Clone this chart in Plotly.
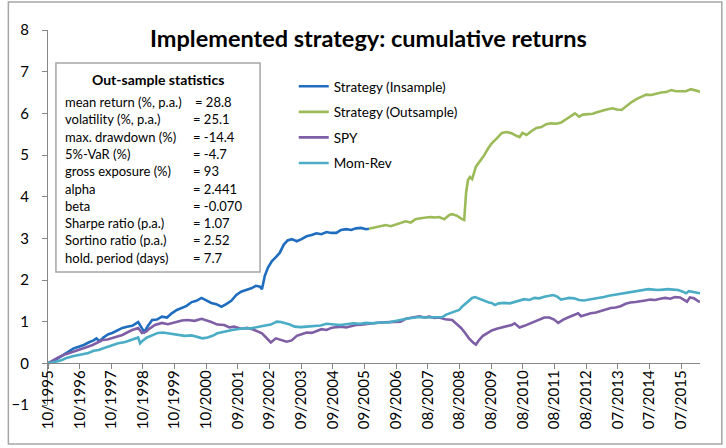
import plotly.graph_objects as go

# ---------------- data ----------------
tick_labels = ["10/1995", "10/1996", "10/1997", "10/1998", "10/1999", "10/2000",
               "09/2001", "09/2002", "09/2003", "09/2004", "09/2005", "09/2006",
               "08/2007", "08/2008", "08/2009", "08/2010", "08/2011", "08/2012",
               "07/2013", "07/2014", "07/2015"]
tick_index = list(range(len(tick_labels)))  # years since 10/1995

ins_t = [0.0, 0.16, 0.31, 0.44, 0.56, 0.69, 0.81, 0.97, 1.13, 1.28, 1.44, 1.53, 1.63, 1.75, 1.91,
         2.03, 2.19, 2.35, 2.5, 2.66, 2.85, 2.94, 3.04, 3.16, 3.29, 3.44, 3.6, 3.76, 3.91, 4.07,
         4.23, 4.38, 4.54, 4.69, 4.85, 5.01, 5.16, 5.32, 5.48, 5.63, 5.79, 5.95, 6.1, 6.26, 6.42,
         6.57, 6.7, 6.76, 6.85, 6.95, 7.07, 7.2, 7.32, 7.45, 7.57, 7.7, 7.86, 8.01, 8.17, 8.33,
         8.48, 8.64, 8.8, 8.95, 9.11, 9.26, 9.42, 9.58, 9.73, 9.89, 10.05, 10.14]
ins_v = [0.0, 0.05, 0.12, 0.18, 0.25, 0.3, 0.36, 0.4, 0.44, 0.5, 0.55, 0.6, 0.53, 0.62, 0.7,
         0.73, 0.8, 0.85, 0.88, 0.9, 0.99, 0.88, 0.75, 0.9, 1.04, 1.05, 1.12, 1.1, 1.2, 1.28,
         1.33, 1.38, 1.47, 1.5, 1.57, 1.5, 1.45, 1.42, 1.36, 1.42, 1.5, 1.64, 1.72, 1.76, 1.8,
         1.86, 1.84, 1.78, 2.1, 2.3, 2.45, 2.55, 2.65, 2.85, 2.95, 2.98, 2.93, 2.98, 3.05, 3.08,
         3.12, 3.1, 3.15, 3.13, 3.13, 3.2, 3.22, 3.2, 3.24, 3.25, 3.22, 3.23]

out_t = [10.14, 10.33, 10.49, 10.67, 10.83, 10.99, 11.11, 11.3, 11.46, 11.61, 11.77, 11.92, 12.08,
         12.24, 12.36, 12.52, 12.68, 12.77, 12.93, 13.08, 13.15, 13.21, 13.27, 13.33, 13.4, 13.52,
         13.65, 13.77, 13.9, 14.02, 14.18, 14.34, 14.49, 14.65, 14.8, 14.9, 14.99, 15.12, 15.27,
         15.43, 15.59, 15.74, 15.9, 16.06, 16.21, 16.37, 16.53, 16.65, 16.78, 16.9, 17.06, 17.21,
         17.37, 17.53, 17.68, 17.84, 17.97, 18.12, 18.28, 18.44, 18.59, 18.75, 18.9, 19.06, 19.22,
         19.37, 19.53, 19.69, 19.84, 20.0, 20.16, 20.31, 20.47, 20.6]
out_v = [3.23, 3.26, 3.3, 3.32, 3.29, 3.33, 3.36, 3.41, 3.38, 3.46, 3.48, 3.49, 3.51,
         3.5, 3.51, 3.46, 3.56, 3.58, 3.54, 3.46, 3.44, 4.1, 4.4, 4.47, 4.42, 4.72,
         4.85, 4.98, 5.15, 5.28, 5.4, 5.53, 5.55, 5.52, 5.46, 5.43, 5.53, 5.48, 5.57,
         5.65, 5.67, 5.74, 5.76, 5.75, 5.78, 5.86, 5.95, 6.0, 5.92, 5.97, 5.98, 5.99,
         6.03, 6.07, 6.1, 6.12, 6.09, 6.08, 6.18, 6.27, 6.34, 6.4, 6.45, 6.44, 6.48,
         6.5, 6.51, 6.56, 6.53, 6.53, 6.53, 6.58, 6.55, 6.52]

spy_t = [0.0, 0.16, 0.34, 0.56, 0.78, 0.97, 1.19, 1.41, 1.56, 1.72, 1.88, 2.03, 2.19, 2.35, 2.5,
         2.66, 2.85, 2.97, 3.1, 3.22, 3.38, 3.6, 3.79, 4.01, 4.23, 4.41, 4.63, 4.85, 5.04, 5.16,
         5.35, 5.57, 5.73, 5.88, 6.1, 6.29, 6.45, 6.6, 6.76, 6.89, 7.04, 7.2, 7.36, 7.54, 7.7,
         7.86, 8.01, 8.17, 8.33, 8.48, 8.64, 8.8, 8.95, 9.11, 9.26, 9.42, 9.58, 9.73, 9.89, 10.05,
         10.27, 10.49, 10.74, 10.99, 11.14, 11.3, 11.52, 11.74, 11.89, 12.05, 12.21, 12.36, 12.55,
         12.77, 12.93, 13.05, 13.18, 13.3, 13.43, 13.52, 13.62, 13.74, 13.87, 14.02, 14.18, 14.34,
         14.49, 14.65, 14.74, 14.9, 15.05, 15.21, 15.37, 15.52, 15.68, 15.84, 15.99, 16.12, 16.28,
         16.43, 16.59, 16.75, 16.84, 17.0, 17.15, 17.31, 17.46, 17.62, 17.78, 17.93, 18.09, 18.25,
         18.4, 18.56, 18.72, 18.87, 19.03, 19.19, 19.34, 19.5, 19.66, 19.81, 19.97, 20.09, 20.19,
         20.28, 20.41, 20.53, 20.6]
spy_v = [0.0, 0.08, 0.15, 0.22, 0.27, 0.32, 0.38, 0.44, 0.5, 0.56, 0.57, 0.6, 0.64, 0.68, 0.74,
         0.8, 0.85, 0.73, 0.76, 0.84, 0.92, 0.97, 0.94, 0.99, 1.03, 1.04, 1.02, 1.07, 1.03, 0.99,
         0.93, 0.92, 0.86, 0.88, 0.83, 0.85, 0.82, 0.77, 0.72, 0.62, 0.5, 0.6, 0.57, 0.52, 0.55,
         0.66, 0.7, 0.74, 0.73, 0.77, 0.82, 0.8, 0.85, 0.87, 0.88, 0.86, 0.9, 0.92, 0.93, 0.95,
         0.96, 0.98, 0.99, 1.01, 1.0, 1.07, 1.1, 1.13, 1.1, 1.12, 1.09, 1.1, 1.06,
         1.04, 0.93, 0.85, 0.73, 0.6, 0.5, 0.45, 0.56, 0.66, 0.72, 0.79, 0.83, 0.86,
         0.88, 0.92, 0.96, 0.86, 0.9, 0.95, 1.0, 1.06, 1.1, 1.1, 1.05, 0.97, 1.05,
         1.1, 1.15, 1.2, 1.13, 1.17, 1.2, 1.22, 1.25, 1.29, 1.33, 1.34, 1.37, 1.43,
         1.46, 1.47, 1.5, 1.51, 1.53, 1.52, 1.55, 1.57, 1.55, 1.59, 1.58, 1.52, 1.48,
         1.58, 1.56, 1.5, 1.47]

mr_t = [0.0, 0.16, 0.31, 0.44, 0.56, 0.78, 0.97, 1.13, 1.28, 1.44, 1.6, 1.82, 2.03, 2.22, 2.44,
        2.6, 2.75, 2.85, 2.91, 3.0, 3.13, 3.29, 3.47, 3.63, 3.79, 3.94, 4.1, 4.32, 4.54, 4.73,
        4.88, 5.04, 5.2, 5.35, 5.51, 5.67, 5.82, 5.98, 6.2, 6.42, 6.6, 6.82, 7.04, 7.23, 7.36,
        7.48, 7.64, 7.79, 7.98, 8.17, 8.39, 8.61, 8.8, 9.01, 9.23, 9.42, 9.64, 9.86, 10.05, 10.27,
        10.49, 10.74, 10.99, 11.21, 11.42, 11.58, 11.74, 11.92, 12.14, 12.33, 12.46, 12.58, 12.68,
        12.83, 12.99, 13.08, 13.18, 13.3, 13.4, 13.49, 13.62, 13.77, 13.93, 14.02, 14.12, 14.24,
        14.4, 14.59, 14.74, 14.9, 15.05, 15.21, 15.37, 15.52, 15.68, 15.84, 15.96, 16.09, 16.21,
        16.34, 16.46, 16.62, 16.78, 16.93, 17.09, 17.25, 17.4, 17.56, 17.72, 17.87, 18.03, 18.18,
        18.34, 18.5, 18.65, 18.81, 18.97, 19.12, 19.28, 19.44, 19.59, 19.75, 19.91, 20.06, 20.16,
        20.25, 20.38, 20.5, 20.6]
mr_v = [0.0, 0.02, 0.05, 0.08, 0.12, 0.17, 0.2, 0.23, 0.25, 0.3, 0.32, 0.38, 0.44, 0.48, 0.51,
        0.55, 0.6, 0.62, 0.48, 0.55, 0.62, 0.68, 0.73, 0.74, 0.72, 0.71, 0.68, 0.66, 0.67, 0.63,
        0.6, 0.62, 0.66, 0.72, 0.75, 0.79, 0.8, 0.82, 0.84, 0.84, 0.86, 0.9, 0.93, 1.0, 0.99,
        0.97, 0.93, 0.88, 0.87, 0.88, 0.9, 0.91, 0.95, 0.93, 0.92, 0.94, 0.96, 0.95, 0.97, 0.96,
        0.98, 0.98, 1.01, 1.05, 1.08, 1.1, 1.11, 1.1, 1.11, 1.12, 1.11, 1.17, 1.2,
        1.24, 1.28, 1.36, 1.42, 1.51, 1.57, 1.59, 1.55, 1.5, 1.46, 1.45, 1.4, 1.44,
        1.45, 1.44, 1.47, 1.5, 1.54, 1.52, 1.57, 1.56, 1.6, 1.62, 1.64, 1.6, 1.53,
        1.55, 1.57, 1.56, 1.52, 1.51, 1.53, 1.54, 1.57, 1.59, 1.62, 1.64, 1.65, 1.67,
        1.7, 1.73, 1.75, 1.76, 1.78, 1.77, 1.76, 1.77, 1.78, 1.77, 1.76, 1.72, 1.68,
        1.73, 1.71, 1.7, 1.68]

stat_names = ["mean return (%, p.a.)", "volatility (%, p.a.)", "max. drawdown (%)", "5%-VaR (%)",
              "gross exposure (%)", "alpha", "beta", "Sharpe ratio (p.a.)", "Sortino ratio (p.a.)",
              "hold. period (days)"]
stat_values = ["= 28.8", "= 25.1", "= -14.4", "= -4.7", "= 93", "= 2.441", "= -0.070",
               "= 1.07", "= 2.52", "= 7.7"]

# ---------------- layout constants (pixels) ----------------
W, H = 726, 448
ML, MR, MT, MB = 42, 26, 30, 43
PW, PH = W - ML - MR, H - MT - MB
FONT = "Lato, 'Open Sans', sans-serif"


def px_x(p):
    return (p - ML) / PW


def px_y(p):
    return (H - MB - p) / PH


fig = go.Figure()
series = [
    ("Strategy (Insample)", ins_t, ins_v, "#1F6DBE"),
    ("Strategy (Outsample)", out_t, out_v, "#9BBB59"),
    ("SPY", spy_t, spy_v, "#7E5FA6"),
    ("Mom-Rev", mr_t, mr_v, "#4BACC6"),
]
for name, t, v, col in series:
    fig.add_trace(go.Scatter(x=t, y=v, mode="lines", name=name, legendgroup=name,
                             line=dict(color=col, width=2.6)))

shapes = [
    # outer chart frame
    dict(type="rect", xref="paper", yref="paper", x0=px_x(2), x1=px_x(722), y0=px_y(444), y1=px_y(2),
         line=dict(color="#A6A6A6", width=1.5), fillcolor="rgba(0,0,0,0)", layer="below"),
    # statistics box
    dict(type="rect", xref="paper", yref="paper", x0=px_x(50), x1=px_x(256), y0=px_y(272), y1=px_y(63),
         line=dict(color="#A6A6A6", width=1.5), fillcolor="white", layer="above"),
]

STAT_SIZE = 13
annotations = [
    dict(text="<b>Implemented strategy: cumulative returns</b>", xref="paper", yref="paper",
         x=px_x(365), y=px_y(38), xanchor="center", yanchor="middle", showarrow=False,
         font=dict(family=FONT, size=23.5, color="#000000")),
    dict(text="<b>Out-sample statistics</b>", xref="paper", yref="paper",
         x=px_x(153), y=px_y(79), xanchor="center", yanchor="middle", showarrow=False,
         font=dict(family=FONT, size=14, color="#000000")),
]
for i, (n, v) in enumerate(zip(stat_names, stat_values)):
    yy = px_y(102 + 17.3 * i)
    annotations.append(dict(text=n, xref="paper", yref="paper", x=px_x(57), y=yy,
                            xanchor="left", yanchor="middle", showarrow=False,
                            font=dict(family=FONT, size=STAT_SIZE, color="#000000")))
    annotations.append(dict(text=v, xref="paper", yref="paper", x=px_x(188 if i == 0 else 186), y=yy,
                            xanchor="left", yanchor="middle", showarrow=False,
                            font=dict(family=FONT, size=STAT_SIZE, color="#000000")))

fig.update_layout(
    width=W, height=H,
    margin=dict(l=ML, r=MR, t=MT, b=MB),
    paper_bgcolor="white", plot_bgcolor="white",
    font=dict(family=FONT, size=14, color="#000000"),
    showlegend=True,
    legend=dict(x=px_x(290), y=px_y(71), xanchor="left", yanchor="top",
                bgcolor="rgba(0,0,0,0)", borderwidth=0, tracegroupgap=5,
                font=dict(family=FONT, size=13.5, color="#000000")),
    shapes=shapes,
    annotations=annotations,
    xaxis=dict(range=[0, 20.6], tickmode="array", tickvals=tick_index, ticktext=tick_labels,
               tickangle=-90, ticks="outside", ticklen=5, tickcolor="#868686",
               showline=True, linecolor="#868686", linewidth=1, showgrid=False, zeroline=False,
               anchor="free", position=1 / 9, ticklabelstandoff=-5,
               tickfont=dict(family=FONT, size=15, color="#000000")),
    yaxis=dict(range=[-1, 8], tickmode="array", tickvals=list(range(-1, 9)),
               ticks="outside", ticklen=5, tickcolor="#868686",
               showline=True, linecolor="#868686", linewidth=1, showgrid=False, zeroline=False,
               ticklabelstandoff=10,
               tickfont=dict(family=FONT, size=15, color="#000000")),
)

fig.write_html("out.html")
